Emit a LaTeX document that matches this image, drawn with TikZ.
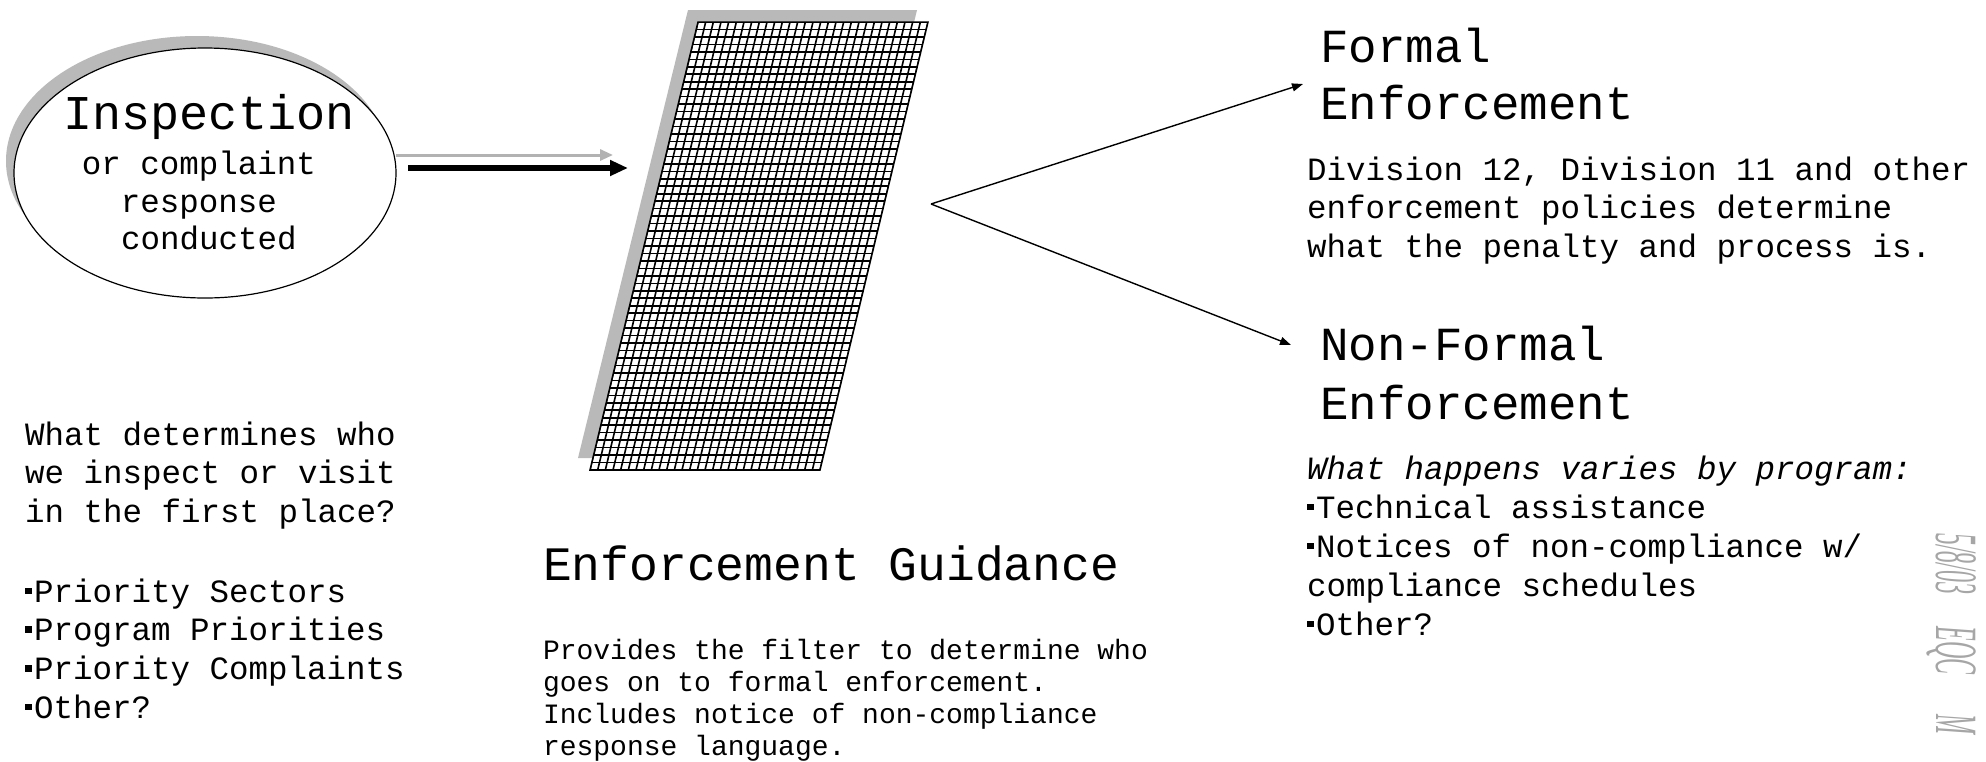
\documentclass[tikz,border=0pt]{standalone}
\usepackage{fontspec}
\setmainfont{Liberation Mono}
\newfontfamily\handfont{Liberation Serif}
\usetikzlibrary{arrows.meta,shapes.geometric}
\newcommand\sqb{\raisebox{8pt}{\rule{6.5pt}{6.5pt}}\hspace{2.5pt}}
\newcommand\stack[2]{\vtop{\baselineskip=#1\lineskiplimit=-100pt #2}}
\begin{document}
\begin{tikzpicture}[x=1pt,y=-1pt,
  txt/.style={anchor=base west, inner sep=0pt, outer sep=0pt},
  ctxt/.style={anchor=base, inner sep=0pt, outer sep=0pt},
  bigf/.style={font=\fontsize{47.5}{57}\selectfont},
  midf/.style={font=\fontsize{32.5}{38.5}\selectfont},
  smlf/.style={font=\fontsize{28}{32}\selectfont},
  shade/.style={fill=gray!55, draw=none},
  link/.style={line width=1.4pt, -{Triangle[length=11pt,width=8pt]}},
  gridline/.style={line width=1.6pt, black}
]
\useasboundingbox (0,0) rectangle (1986,761);
\fill[white] (0,0) rectangle (1986,761);

% ---------- Inspection ellipse ----------
\node[ellipse, shade, minimum width=382pt, minimum height=250pt, inner sep=0pt] (inspshadow) at (197,161) {};
\node[ellipse, draw, fill=white, line width=1.2pt, minimum width=382pt, minimum height=250pt, inner sep=0pt] (insp) at (205,173) {};
\node[ctxt, font=\fontsize{48.5}{57}\selectfont] (i1) at (209,129) {Inspection};
\node[ctxt, midf] (i2) at (199,174) {or complaint};
\node[ctxt, midf] (i3) at (199,212) {response};
\node[ctxt, midf] (i4) at (209,249) {conducted};

% ---------- arrow to filter ----------
\coordinate (ga) at (396,155);
\coordinate (gb) at (613,155);
\coordinate (ba) at (408,168);
\coordinate (bb) at (628,168);
\draw[gray!60, line width=3pt, -{Triangle[length=13pt,width=11pt]}] (ga) -- (gb);
\draw[black, line width=5.5pt, -{Triangle[length=18pt,width=15pt]}] (ba) -- (bb);

% ---------- filter ----------
\coordinate (fTL) at (698,22);
\coordinate (fTR) at (928,22);
\coordinate (fBR) at (820,470);
\coordinate (fBL) at (590,470);
\fill[gray!55] (688,10) -- (917,10) -- (809,458) -- (578,458) -- cycle;
\fill[white] (fTL) -- (fTR) -- (fBR) -- (fBL) -- cycle;
\begin{scope}
  \clip (fTL) -- (fTR) -- (fBR) -- (fBL) -- cycle;
  \foreach \i in {0,...,30} {
    \draw[gridline] ({698+\i*7.667},22) -- ({590+\i*7.667},470);
  }
  \foreach \j in {0,...,60} {
    \pgfmathsetmacro\yy{22+\j*7.467}
    \pgfmathsetmacro\xx{698-0.24107*(\yy-22)}
    \draw[gridline] (\xx,\yy) -- ({\xx+230},\yy);
  }
\end{scope}
\draw[line width=1.5pt] (fTL) -- (fTR) -- (fBR) -- (fBL) -- cycle;

% ---------- fork ----------
\coordinate (fork) at (931,204);
\coordinate (formaltip) at (1303,84);
\coordinate (nonformaltip) at (1291,345);
\draw[link] (fork) -- (formaltip);
\draw[link] (fork) -- (nonformaltip);

% ---------- right texts ----------
\node[txt, bigf] (formal) at (1320,62) {\stack{57pt}{\hbox{Formal}\hbox{Enforcement}}};
\node[txt, midf] (division) at (1307,180) {\stack{38.5pt}{\hbox{Division 12, Division 11 and other}\hbox{enforcement policies determine}\hbox{what the penalty and process is.}}};
\node[txt, bigf] (nonformal) at (1320,360) {\stack{59pt}{\hbox{Non-Formal}\hbox{Enforcement}}};
\node[txt, midf] (varies) at (1307,479) {\stack{39pt}{\hbox{\itshape What happens varies by program:}\hbox{\sqb Technical assistance}\hbox{\sqb Notices of non-compliance w/}\hbox{compliance schedules}\hbox{\sqb Other?}}};

% ---------- left texts ----------
\node[txt, midf] (question) at (25,445) {\stack{38.5pt}{\hbox{What determines who}\hbox{we inspect or visit}\hbox{in the first place?}}};
\node[txt, midf] (priorities) at (25,602) {\stack{38.8pt}{\hbox{\sqb Priority Sectors}\hbox{\sqb Program Priorities}\hbox{\sqb Priority Complaints}\hbox{\sqb Other?}}};

% ---------- middle bottom ----------
\node[txt, font=\fontsize{48}{56}\selectfont] (guidance) at (543,580) {Enforcement Guidance};
\node[txt, smlf] (provides) at (543,659) {\stack{32pt}{\hbox{Provides the filter to determine who}\hbox{goes on to formal enforcement.}\hbox{Includes notice of non-compliance}\hbox{response language.}}};

% ---------- handwritten note ----------
\node[txt, rotate=-90, text=gray!70, font=\handfont\itshape\fontsize{60}{64}\selectfont] (note) at (1936,533) {\scalebox{0.4}[1]{5/8/03\hspace{80pt}EQC\hspace{100pt}M}};
\end{tikzpicture}
\end{document}
